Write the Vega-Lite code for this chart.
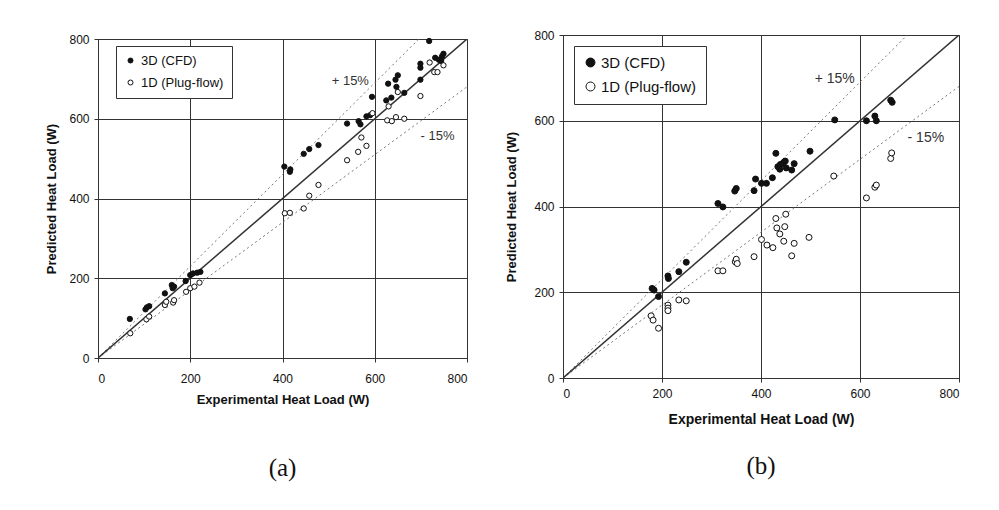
{
  "$schema": "https://vega.github.io/schema/vega-lite/v6.json",
  "background": "white",
  "padding": {"left": 45, "top": 28, "right": 5, "bottom": 5},
  "datasets": {
    "diag": [{"x": 0, "y": 0}, {"x": 800, "y": 800}],
    "plus15": [{"x": 0, "y": 0}, {"x": 695.65, "y": 800}],
    "minus15": [{"x": 0, "y": 0}, {"x": 800, "y": 680}],
    "a_lab": [{"x": 547, "y": 695, "t": "+ 15%"}, {"x": 736, "y": 557, "t": "- 15%"}],
    "b_lab": [{"x": 549, "y": 697, "t": "+ 15%"}, {"x": 733, "y": 559, "t": "- 15%"}],
    "a_pts": [
      {"x": 69, "y": 98, "method": "3D (CFD)"},
      {"x": 103, "y": 122, "method": "3D (CFD)"},
      {"x": 106, "y": 127, "method": "3D (CFD)"},
      {"x": 111, "y": 130, "method": "3D (CFD)"},
      {"x": 145, "y": 162, "method": "3D (CFD)"},
      {"x": 160, "y": 183, "method": "3D (CFD)"},
      {"x": 162, "y": 175, "method": "3D (CFD)"},
      {"x": 165, "y": 179, "method": "3D (CFD)"},
      {"x": 190, "y": 193, "method": "3D (CFD)"},
      {"x": 200, "y": 208, "method": "3D (CFD)"},
      {"x": 206, "y": 212, "method": "3D (CFD)"},
      {"x": 215, "y": 214, "method": "3D (CFD)"},
      {"x": 222, "y": 216, "method": "3D (CFD)"},
      {"x": 404, "y": 480, "method": "3D (CFD)"},
      {"x": 416, "y": 467, "method": "3D (CFD)"},
      {"x": 417, "y": 473, "method": "3D (CFD)"},
      {"x": 446, "y": 512, "method": "3D (CFD)"},
      {"x": 458, "y": 524, "method": "3D (CFD)"},
      {"x": 478, "y": 534, "method": "3D (CFD)"},
      {"x": 540, "y": 588, "method": "3D (CFD)"},
      {"x": 565, "y": 594, "method": "3D (CFD)"},
      {"x": 569, "y": 586, "method": "3D (CFD)"},
      {"x": 582, "y": 606, "method": "3D (CFD)"},
      {"x": 590, "y": 609, "method": "3D (CFD)"},
      {"x": 594, "y": 655, "method": "3D (CFD)"},
      {"x": 625, "y": 646, "method": "3D (CFD)"},
      {"x": 636, "y": 653, "method": "3D (CFD)"},
      {"x": 647, "y": 680, "method": "3D (CFD)"},
      {"x": 664, "y": 665, "method": "3D (CFD)"},
      {"x": 629, "y": 688, "method": "3D (CFD)"},
      {"x": 645, "y": 698, "method": "3D (CFD)"},
      {"x": 650, "y": 709, "method": "3D (CFD)"},
      {"x": 699, "y": 698, "method": "3D (CFD)"},
      {"x": 699, "y": 728, "method": "3D (CFD)"},
      {"x": 699, "y": 738, "method": "3D (CFD)"},
      {"x": 718, "y": 795, "method": "3D (CFD)"},
      {"x": 731, "y": 753, "method": "3D (CFD)"},
      {"x": 739, "y": 748, "method": "3D (CFD)"},
      {"x": 746, "y": 757, "method": "3D (CFD)"},
      {"x": 749, "y": 763, "method": "3D (CFD)"},
      {"x": 744, "y": 745, "method": "3D (CFD)"},
      {"x": 70, "y": 62, "method": "1D (Plug-flow)"},
      {"x": 105, "y": 97, "method": "1D (Plug-flow)"},
      {"x": 111, "y": 104, "method": "1D (Plug-flow)"},
      {"x": 145, "y": 133, "method": "1D (Plug-flow)"},
      {"x": 148, "y": 141, "method": "1D (Plug-flow)"},
      {"x": 163, "y": 139, "method": "1D (Plug-flow)"},
      {"x": 165, "y": 145, "method": "1D (Plug-flow)"},
      {"x": 191, "y": 166, "method": "1D (Plug-flow)"},
      {"x": 200, "y": 175, "method": "1D (Plug-flow)"},
      {"x": 209, "y": 179, "method": "1D (Plug-flow)"},
      {"x": 220, "y": 189, "method": "1D (Plug-flow)"},
      {"x": 405, "y": 363, "method": "1D (Plug-flow)"},
      {"x": 416, "y": 364, "method": "1D (Plug-flow)"},
      {"x": 446, "y": 375, "method": "1D (Plug-flow)"},
      {"x": 458, "y": 407, "method": "1D (Plug-flow)"},
      {"x": 478, "y": 434, "method": "1D (Plug-flow)"},
      {"x": 540, "y": 496, "method": "1D (Plug-flow)"},
      {"x": 564, "y": 517, "method": "1D (Plug-flow)"},
      {"x": 571, "y": 553, "method": "1D (Plug-flow)"},
      {"x": 582, "y": 532, "method": "1D (Plug-flow)"},
      {"x": 595, "y": 614, "method": "1D (Plug-flow)"},
      {"x": 627, "y": 596, "method": "1D (Plug-flow)"},
      {"x": 637, "y": 594, "method": "1D (Plug-flow)"},
      {"x": 646, "y": 604, "method": "1D (Plug-flow)"},
      {"x": 664, "y": 600, "method": "1D (Plug-flow)"},
      {"x": 630, "y": 631, "method": "1D (Plug-flow)"},
      {"x": 650, "y": 667, "method": "1D (Plug-flow)"},
      {"x": 699, "y": 657, "method": "1D (Plug-flow)"},
      {"x": 719, "y": 741, "method": "1D (Plug-flow)"},
      {"x": 729, "y": 717, "method": "1D (Plug-flow)"},
      {"x": 736, "y": 717, "method": "1D (Plug-flow)"},
      {"x": 749, "y": 734, "method": "1D (Plug-flow)"}
    ],
    "b_pts": [
      {"x": 180, "y": 209, "method": "3D (CFD)"},
      {"x": 184, "y": 205, "method": "3D (CFD)"},
      {"x": 193, "y": 190, "method": "3D (CFD)"},
      {"x": 212, "y": 238, "method": "3D (CFD)"},
      {"x": 213, "y": 232, "method": "3D (CFD)"},
      {"x": 234, "y": 248, "method": "3D (CFD)"},
      {"x": 249, "y": 270, "method": "3D (CFD)"},
      {"x": 313, "y": 407, "method": "3D (CFD)"},
      {"x": 323, "y": 399, "method": "3D (CFD)"},
      {"x": 347, "y": 436, "method": "3D (CFD)"},
      {"x": 350, "y": 442, "method": "3D (CFD)"},
      {"x": 386, "y": 437, "method": "3D (CFD)"},
      {"x": 389, "y": 464, "method": "3D (CFD)"},
      {"x": 401, "y": 454, "method": "3D (CFD)"},
      {"x": 411, "y": 454, "method": "3D (CFD)"},
      {"x": 423, "y": 467, "method": "3D (CFD)"},
      {"x": 430, "y": 524, "method": "3D (CFD)"},
      {"x": 434, "y": 493, "method": "3D (CFD)"},
      {"x": 438, "y": 487, "method": "3D (CFD)"},
      {"x": 439, "y": 498, "method": "3D (CFD)"},
      {"x": 446, "y": 503, "method": "3D (CFD)"},
      {"x": 451, "y": 490, "method": "3D (CFD)"},
      {"x": 444, "y": 500, "method": "3D (CFD)"},
      {"x": 449, "y": 506, "method": "3D (CFD)"},
      {"x": 462, "y": 485, "method": "3D (CFD)"},
      {"x": 467, "y": 500, "method": "3D (CFD)"},
      {"x": 499, "y": 529, "method": "3D (CFD)"},
      {"x": 549, "y": 602, "method": "3D (CFD)"},
      {"x": 613, "y": 600, "method": "3D (CFD)"},
      {"x": 630, "y": 611, "method": "3D (CFD)"},
      {"x": 633, "y": 600, "method": "3D (CFD)"},
      {"x": 662, "y": 648, "method": "3D (CFD)"},
      {"x": 665, "y": 643, "method": "3D (CFD)"},
      {"x": 178, "y": 145, "method": "1D (Plug-flow)"},
      {"x": 182, "y": 135, "method": "1D (Plug-flow)"},
      {"x": 193, "y": 116, "method": "1D (Plug-flow)"},
      {"x": 212, "y": 170, "method": "1D (Plug-flow)"},
      {"x": 212, "y": 163, "method": "1D (Plug-flow)"},
      {"x": 212, "y": 157, "method": "1D (Plug-flow)"},
      {"x": 234, "y": 182, "method": "1D (Plug-flow)"},
      {"x": 249, "y": 180, "method": "1D (Plug-flow)"},
      {"x": 313, "y": 250, "method": "1D (Plug-flow)"},
      {"x": 323, "y": 250, "method": "1D (Plug-flow)"},
      {"x": 348, "y": 271, "method": "1D (Plug-flow)"},
      {"x": 350, "y": 277, "method": "1D (Plug-flow)"},
      {"x": 352, "y": 267, "method": "1D (Plug-flow)"},
      {"x": 386, "y": 283, "method": "1D (Plug-flow)"},
      {"x": 401, "y": 323, "method": "1D (Plug-flow)"},
      {"x": 412, "y": 310, "method": "1D (Plug-flow)"},
      {"x": 424, "y": 304, "method": "1D (Plug-flow)"},
      {"x": 430, "y": 372, "method": "1D (Plug-flow)"},
      {"x": 450, "y": 382, "method": "1D (Plug-flow)"},
      {"x": 432, "y": 350, "method": "1D (Plug-flow)"},
      {"x": 448, "y": 353, "method": "1D (Plug-flow)"},
      {"x": 438, "y": 336, "method": "1D (Plug-flow)"},
      {"x": 446, "y": 319, "method": "1D (Plug-flow)"},
      {"x": 462, "y": 285, "method": "1D (Plug-flow)"},
      {"x": 467, "y": 314, "method": "1D (Plug-flow)"},
      {"x": 497, "y": 328, "method": "1D (Plug-flow)"},
      {"x": 547, "y": 471, "method": "1D (Plug-flow)"},
      {"x": 613, "y": 420, "method": "1D (Plug-flow)"},
      {"x": 630, "y": 445, "method": "1D (Plug-flow)"},
      {"x": 633, "y": 450, "method": "1D (Plug-flow)"},
      {"x": 662, "y": 512, "method": "1D (Plug-flow)"},
      {"x": 664, "y": 525, "method": "1D (Plug-flow)"}
    ]
  },
  "config": {
    "view": {"stroke": "#333", "strokeWidth": 1},
    "axis": {
      "grid": true, "gridColor": "#333", "gridOpacity": 1, "gridWidth": 1,
      "domainColor": "#333", "tickColor": "#333", "tickSize": 4,
      "labelFont": "Liberation Sans", "labelColor": "#111",
      "titleFont": "Liberation Sans", "titleColor": "#111", "titleFontWeight": "bold"
    },
    "legend": {
      "strokeColor": "#333", "fillColor": "white",
      "labelFont": "Liberation Sans", "labelColor": "#111",
      "symbolStrokeColor": "#111", "symbolStrokeWidth": 1, "symbolType": "circle",
      "title": null
    }
  },
  "resolve": {"scale": {"fill": "independent"}, "legend": {"fill": "independent"}},
  "spacing": 36,
  "hconcat": [
    {
      "bounds": "flush",
      "spacing": 3,
      "vconcat": [
        {
          "width": 369, "height": 1,
          "view": {"stroke": null},
          "data": {"values": [{"t": ""}]},
          "mark": {"type": "text", "opacity": 0},
          "encoding": {"text": {"field": "t"}}
        },
        {
          "width": 369, "height": 319,
          "title": {"text": "(a)", "orient": "bottom", "font": "Liberation Serif", "fontSize": 25, "fontWeight": "normal", "color": "#111", "offset": 50},
          "encoding": {
            "x": {"field": "x", "type": "quantitative", "scale": {"domain": [0, 800], "nice": false},
                  "axis": {"values": [0, 200, 400, 600, 800], "title": "Experimental Heat Load (W)", "labelFontSize": 12, "titleFontSize": 13, "labelPadding": 11, "titlePadding": 9}},
            "y": {"field": "y", "type": "quantitative", "scale": {"domain": [0, 800], "nice": false},
                  "axis": {"values": [0, 200, 400, 600, 800], "title": "Predicted Heat Load (W)", "labelFontSize": 12, "titleFontSize": 13, "labelPadding": 5, "titlePadding": 10}}
          },
          "layer": [
            {"data": {"name": "plus15"}, "mark": {"type": "line", "color": "#777", "strokeWidth": 1, "strokeDash": [2, 3], "clip": true}},
            {"data": {"name": "minus15"}, "mark": {"type": "line", "color": "#777", "strokeWidth": 1, "strokeDash": [2, 3], "clip": true}},
            {"data": {"name": "diag"}, "mark": {"type": "line", "color": "#333", "strokeWidth": 1.5, "clip": true}},
            {"data": {"name": "a_pts"},
             "mark": {"type": "point", "filled": true, "stroke": "#111", "strokeWidth": 1, "size": 28, "opacity": 1},
             "encoding": {"fill": {"field": "method", "type": "nominal",
                "scale": {"domain": ["3D (CFD)", "1D (Plug-flow)"], "range": ["#111", "white"]},
                "legend": {"orient": "none", "legendX": 18, "legendY": 11, "labelFontSize": 13, "symbolSize": 25, "padding": 8, "rowPadding": 8, "labelOffset": 4}}}},
            {"data": {"name": "a_lab"}, "mark": {"type": "text", "font": "Liberation Sans", "fontSize": 13, "color": "#333"},
             "encoding": {"text": {"field": "t"}}}
          ]
        }
      ]
    },
    {
      "width": 396, "height": 343,
      "title": {"text": "(b)", "orient": "bottom", "font": "Liberation Serif", "fontSize": 25, "fontWeight": "normal", "color": "#111", "offset": 28},
      "encoding": {
        "x": {"field": "x", "type": "quantitative", "scale": {"domain": [0, 800], "nice": false},
              "axis": {"values": [0, 200, 400, 600, 800], "title": "Experimental Heat Load (W)", "labelFontSize": 12, "titleFontSize": 14, "labelPadding": 6, "titlePadding": 13}},
        "y": {"field": "y", "type": "quantitative", "scale": {"domain": [0, 800], "nice": false},
              "axis": {"values": [0, 200, 400, 600, 800], "title": "Predicted Heat Load (W)", "labelFontSize": 12, "titleFontSize": 13, "labelPadding": 5, "titlePadding": 15.5}}
      },
      "layer": [
        {"data": {"name": "plus15"}, "mark": {"type": "line", "color": "#777", "strokeWidth": 1, "strokeDash": [2, 3], "clip": true}},
        {"data": {"name": "minus15"}, "mark": {"type": "line", "color": "#777", "strokeWidth": 1, "strokeDash": [2, 3], "clip": true}},
        {"data": {"name": "diag"}, "mark": {"type": "line", "color": "#333", "strokeWidth": 1.5, "clip": true}},
        {"data": {"name": "b_pts"},
         "mark": {"type": "point", "filled": true, "stroke": "#111", "strokeWidth": 1, "size": 36, "opacity": 1},
         "encoding": {"fill": {"field": "method", "type": "nominal",
            "scale": {"domain": ["3D (CFD)", "1D (Plug-flow)"], "range": ["#111", "white"]},
            "legend": {"orient": "none", "legendX": 11, "legendY": 11, "labelFontSize": 15, "symbolSize": 80, "padding": 9, "rowPadding": 8, "labelOffset": 3}}}},
        {"data": {"name": "b_lab"}, "mark": {"type": "text", "font": "Liberation Sans", "fontSize": 14, "color": "#333"},
         "encoding": {"text": {"field": "t"}}}
      ]
    }
  ]
}
